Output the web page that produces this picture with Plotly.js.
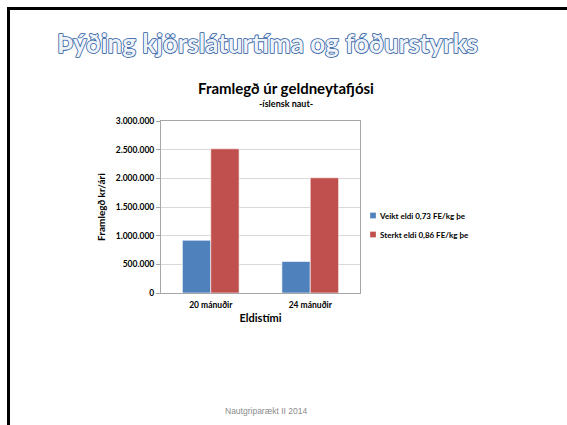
<!DOCTYPE html>
<html>
<head>
<meta charset="utf-8">
<script src="https://cdn.plot.ly/plotly-3.0.1.min.js"></script>
<style>
  html, body { margin: 0; padding: 0; background: #ffffff; }
  #chart { width: 567px; height: 425px; }
  g.annotation[data-index="0"] text {
    fill: #eef3fa !important;
    stroke: #2a5aa0;
    stroke-width: 1.6px;
    paint-order: stroke;
    stroke-linejoin: round;
  }
  g.legend g.legendpoints path {
    transform: translate(33px, 0px) scale(0.5);
  }
</style>
</head>
<body>
<div id="chart"></div>
<script>
const categories = ["20 mánuðir", "24 mánuðir"];
const seriesNames = ["Veikt eldi 0,73 FE/kg þe", "Sterkt eldi 0,86 FE/kg þe"];
const veiktValues = [920000, 550000];
const sterktValues = [2515000, 2010000];
const yTickVals = [0, 500000, 1000000, 1500000, 2000000, 2500000, 3000000];
const yTickText = ["0", "500.000", "1.000.000", "1.500.000", "2.000.000", "2.500.000", "3.000.000"];

const font = "Lato, 'Open Sans', sans-serif";

const traces = [
  { type: "bar", name: seriesNames[0], x: categories, y: veiktValues,
    marker: { color: "#4F81BD", line: { color: "#ffffff", width: 0.6 } } },
  { type: "bar", name: seriesNames[1], x: categories, y: sterktValues,
    marker: { color: "#C0504D", line: { color: "#ffffff", width: 0.6 } } }
];

const layout = {
  width: 567, height: 425,
  margin: { l: 161, r: 207, t: 121, b: 132, pad: 0 },
  paper_bgcolor: "#ffffff", plot_bgcolor: "#ffffff",
  barmode: "group", bargap: 0.43, bargroupgap: 0,
  showlegend: true,
  font: { family: font, color: "#000000" },
  xaxis: {
    type: "category",
    showline: true, linecolor: "#a6a6a6", linewidth: 1, mirror: true,
    ticks: "", tickfont: { family: font, size: 8.5, color: "#000000", weight: "bold" },
    ticklabelstandoff: 4,
    title: { text: "<b>Eldistími</b>", font: { family: font, size: 11, color: "#000000" }, standoff: 5 },
    fixedrange: true
  },
  yaxis: {
    range: [0, 3000000],
    tickvals: yTickVals, ticktext: yTickText,
    showgrid: true, gridcolor: "#d9d9d9", gridwidth: 1,
    showline: true, linecolor: "#a6a6a6", linewidth: 1, mirror: true,
    ticks: "outside", ticklen: 4, tickcolor: "#a6a6a6",
    tickfont: { family: font, size: 8.5, color: "#000000", weight: "bold" },
    zeroline: false,
    title: { text: "<b>Framlegð kr/ári</b>", font: { family: font, size: 10, color: "#000000" }, standoff: 8 },
    fixedrange: true
  },
  legend: {
    x: (340 - 161) / 199, xanchor: "left", y: (293 - 201) / 172, yanchor: "top",
    font: { family: font, size: 8, color: "#000000", weight: "bold" },
    tracegroupgap: 0, itemwidth: 30, bgcolor: "rgba(0,0,0,0)"
  },
  shapes: [
    { type: "rect", xref: "paper", yref: "paper", layer: "above",
      x0: (7 - 161) / 199, x1: (10 - 161) / 199, y0: (293 - 425) / 172, y1: (293 - 7) / 172,
      fillcolor: "#000000", line: { width: 0 } },
    { type: "rect", xref: "paper", yref: "paper", layer: "above",
      x0: (7 - 161) / 199, x1: (567 - 161) / 199, y0: (293 - 10) / 172, y1: (293 - 7) / 172,
      fillcolor: "#000000", line: { width: 0 } }
  ],
  annotations: [
    { text: "<b>Þýðing kjörsláturtíma og fóðurstyrks</b>", xref: "paper", yref: "paper",
      x: (267 - 161) / 199, y: (293 - 43) / 172, xanchor: "center", yanchor: "middle",
      showarrow: false, font: { family: font, size: 26, color: "#eef3fa" } },
    { text: "<b>Framlegð úr geldneytafjósi</b>", xref: "paper", yref: "paper",
      x: (286 - 161) / 199, y: (293 - 88) / 172, xanchor: "center", yanchor: "middle",
      showarrow: false, font: { family: font, size: 15, color: "#000000" } },
    { text: "<b>-íslensk naut-</b>", xref: "paper", yref: "paper",
      x: (286 - 161) / 199, y: (293 - 103) / 172, xanchor: "center", yanchor: "middle",
      showarrow: false, font: { family: font, size: 9, color: "#000000" } },
    { text: "Nautgriparækt II 2014", xref: "paper", yref: "paper",
      x: (266 - 161) / 199, y: (293 - 411) / 172, xanchor: "center", yanchor: "middle",
      showarrow: false, font: { family: "'Liberation Sans', Arial, sans-serif", size: 8.5, color: "#8c8c8c" } }
  ]
};

Plotly.newPlot("chart", traces, layout, { displayModeBar: false, staticPlot: true });
</script>
</body>
</html>
